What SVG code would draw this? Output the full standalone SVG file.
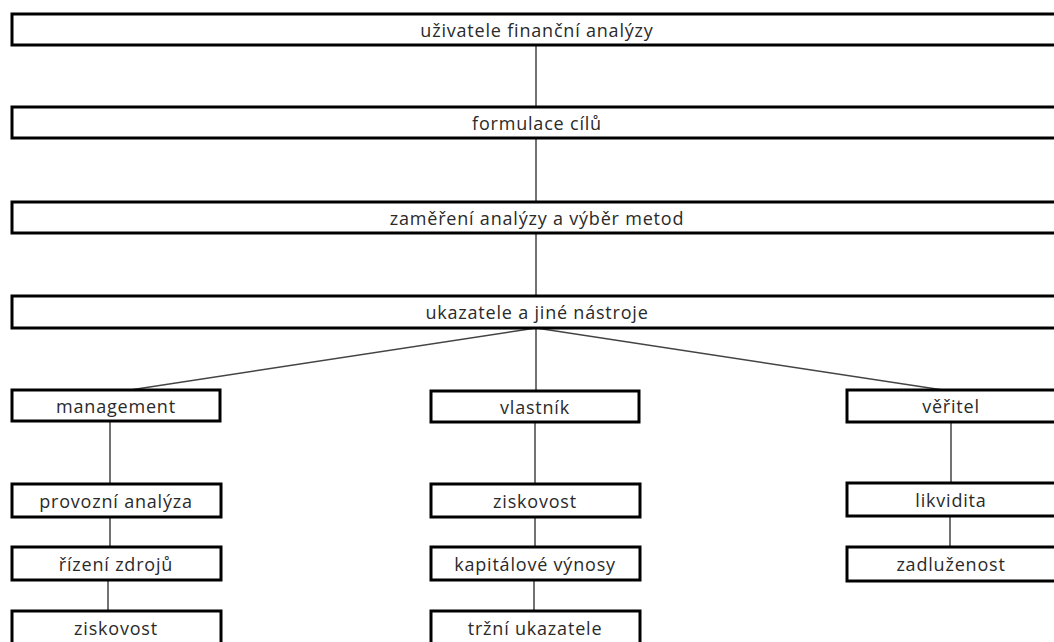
<svg xmlns="http://www.w3.org/2000/svg" width="1054" height="642" viewBox="0 0 1054 642">
<style>
.box{fill:#fff;stroke:#000;stroke-width:3}
.t{font-family:"Open Sans","Noto Sans",sans-serif;font-size:18px;letter-spacing:0.8px;fill:#2a2a2a;text-anchor:middle;dominant-baseline:central}
.c{stroke:#444;stroke-width:1.5;fill:none}
</style>
<rect width="1054" height="642" fill="#fff"/>
<g id="connectors">
<line class="c" x1="536" y1="45" x2="536" y2="107"/>
<line class="c" x1="536" y1="138" x2="536" y2="202"/>
<line class="c" x1="536" y1="233" x2="536" y2="296"/>
<line class="c" x1="536" y1="328" x2="130" y2="390"/>
<line class="c" x1="536" y1="328" x2="536" y2="390"/>
<line class="c" x1="536" y1="328" x2="943" y2="390"/>
<line class="c" x1="110" y1="421" x2="110" y2="484"/>
<line class="c" x1="110" y1="517" x2="110" y2="547"/>
<line class="c" x1="108" y1="580" x2="108" y2="611"/>
<line class="c" x1="535" y1="422" x2="535" y2="484"/>
<line class="c" x1="535" y1="517" x2="535" y2="547"/>
<line class="c" x1="534" y1="580" x2="534" y2="611"/>
<line class="c" x1="951" y1="422" x2="951" y2="483"/>
<line class="c" x1="950" y1="516" x2="950" y2="547"/>
</g>
<g id="n1"><rect class="box" x="12" y="14" width="1060" height="31"/><text class="t" x="537" y="30">uživatele finanční analýzy</text></g>
<g id="n2"><rect class="box" x="12" y="107" width="1060" height="31"/><text class="t" x="537" y="123">formulace cílů</text></g>
<g id="n3"><rect class="box" x="12" y="202" width="1060" height="31"/><text class="t" x="537" y="218">zaměření analýzy a výběr metod</text></g>
<g id="n4"><rect class="box" x="12" y="296" width="1060" height="32"/><text class="t" x="537" y="312">ukazatele a jiné nástroje</text></g>
<g id="n5"><rect class="box" x="12" y="390" width="208" height="31"/><text class="t" x="116" y="406">management</text></g>
<g id="n6"><rect class="box" x="431" y="391" width="208" height="31"/><text class="t" x="535" y="407">vlastník</text></g>
<g id="n7"><rect class="box" x="847" y="390" width="220" height="32"/><text class="t" x="951" y="406">věřitel</text></g>
<g id="n8"><rect class="box" x="12" y="484" width="209" height="33"/><text class="t" x="116" y="501">provozní analýza</text></g>
<g id="n9"><rect class="box" x="431" y="484" width="209" height="33"/><text class="t" x="535" y="501">ziskovost</text></g>
<g id="n10"><rect class="box" x="847" y="483" width="220" height="33"/><text class="t" x="951" y="500">likvidita</text></g>
<g id="n11"><rect class="box" x="12" y="547" width="209" height="33"/><text class="t" x="116" y="564">řízení zdrojů</text></g>
<g id="n12"><rect class="box" x="431" y="547" width="209" height="33"/><text class="t" x="535" y="564">kapitálové výnosy</text></g>
<g id="n13"><rect class="box" x="847" y="547" width="220" height="34"/><text class="t" x="951" y="564">zadluženost</text></g>
<g id="n14"><rect class="box" x="12" y="611" width="209" height="40"/><text class="t" x="116" y="628">ziskovost</text></g>
<g id="n15"><rect class="box" x="431" y="611" width="209" height="40"/><text class="t" x="535" y="628">tržní ukazatele</text></g>
</svg>
